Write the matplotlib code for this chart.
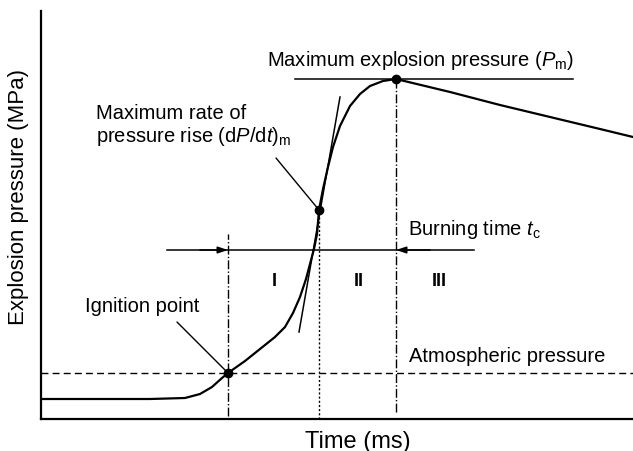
import matplotlib.pyplot as plt

plt.rcParams["font.family"] = ["Liberation Sans", "DejaVu Sans"]
plt.rcParams["mathtext.fontset"] = "custom"
plt.rcParams["mathtext.it"] = "Liberation Sans:italic"
plt.rcParams["mathtext.rm"] = "Liberation Sans"

# pressure trace (arbitrary units)
time = [41, 100, 150, 185, 200, 212, 222, 228, 245, 260, 275, 285, 293, 300, 306,
        310, 314, 317, 319, 323, 328, 333, 340, 350, 360, 370, 383, 396, 450, 500,
        550, 600, 633]
pressure = [52, 52, 52, 53, 57, 64, 73, 78, 90, 102, 114, 124, 138, 154, 172,
            187, 202, 217, 241, 262, 284, 304, 325, 345, 357, 365, 370, 372, 359,
            346, 334, 322, 314]

# characteristic points
t_ign, p_ign = 228, 78
t_rate, p_rate = 319, 241
t_max, p_max = 396, 372
p_atm = 78
p_burn = 201
tangent_t = [299, 340]
tangent_p = [119, 354]

fig = plt.figure(figsize=(6.33, 4.52), dpi=100)
ax = fig.add_axes([41 / 633, 32 / 452, 592 / 633, 408 / 452])
ax.set_xlim(41, 633)
ax.set_ylim(32, 440)

ax.plot(time, pressure, color="black", lw=1.6)
ax.plot(tangent_t, tangent_p, color="black", lw=1.1)

# reference lines
ax.axhline(p_atm, color="black", lw=1, ls=(0, (5, 3)))
ax.plot([t_ign, t_ign], [35, 217], color="black", lw=1, ls="-.")
ax.plot([t_rate, t_rate], [32, p_rate], color="black", lw=1, ls=(0, (1.5, 1.5)))
ax.plot([t_max, t_max], [39, p_max], color="black", lw=1, ls="-.")
ax.plot([295, 573], [p_max, p_max], color="black", lw=1.1)

# burning time bar
ax.plot([167, 474], [p_burn, p_burn], color="black", lw=1.1)
ax.annotate("", xy=(t_ign, p_burn), xytext=(200, p_burn),
            arrowprops=dict(arrowstyle="-|>,head_length=0.6,head_width=0.2",
                            color="black", lw=1.1, shrinkA=0, shrinkB=0))
ax.annotate("", xy=(t_max, p_burn), xytext=(430, p_burn),
            arrowprops=dict(arrowstyle="-|>,head_length=0.6,head_width=0.2",
                            color="black", lw=1.1, shrinkA=0, shrinkB=0))

ax.plot([t_ign, t_rate, t_max], [p_ign, p_rate, p_max], "o", color="black", ms=6)

fs = 14.5
ax.text(267, 392, "Maximum explosion pressure ($P_{\\rm m}$)", fontsize=fs, va="center")
ax.text(96, 326, "Maximum rate of\npressure rise (d$P$/d$t$)$_{\\rm m}$", fontsize=fs,
        va="center", linespacing=1.15)
ax.annotate("", xy=(t_rate, p_rate), xytext=(276, 293),
            arrowprops=dict(arrowstyle="-", color="black", lw=1, shrinkA=0, shrinkB=0))
ax.text(85, 145, "Ignition point", fontsize=fs, va="center")
ax.annotate("", xy=(t_ign, p_ign), xytext=(177, 129),
            arrowprops=dict(arrowstyle="-", color="black", lw=1, shrinkA=0, shrinkB=0))
ax.text(408, 222, "Burning time $t_{\\rm c}$", fontsize=fs, va="center")
ax.text(409, 95, "Atmospheric pressure", fontsize=fs, va="center")
for x, lab in [(274, "I"), (359, "II"), (439, "III")]:
    ax.text(x, 170, lab, fontsize=13, fontweight="bold", ha="center", va="center")

ax.set_xlabel("Time (ms)", fontsize=17)
ax.set_ylabel("Explosion pressure (MPa)", fontsize=16)
ax.xaxis.set_label_coords((358 - 41) / 592, -22 / 408, transform=ax.transAxes)
ax.yaxis.set_label_coords(-22 / 592, (420 - 197) / 408, transform=ax.transAxes)
ax.xaxis.label.set_va("center")
ax.yaxis.label.set_va("center")
ax.set_xticks([])
ax.set_yticks([])
for s in ["top", "right"]:
    ax.spines[s].set_visible(False)
for s in ["left", "bottom"]:
    ax.spines[s].set_linewidth(1.6)

fig.savefig("out.png", dpi=100)
